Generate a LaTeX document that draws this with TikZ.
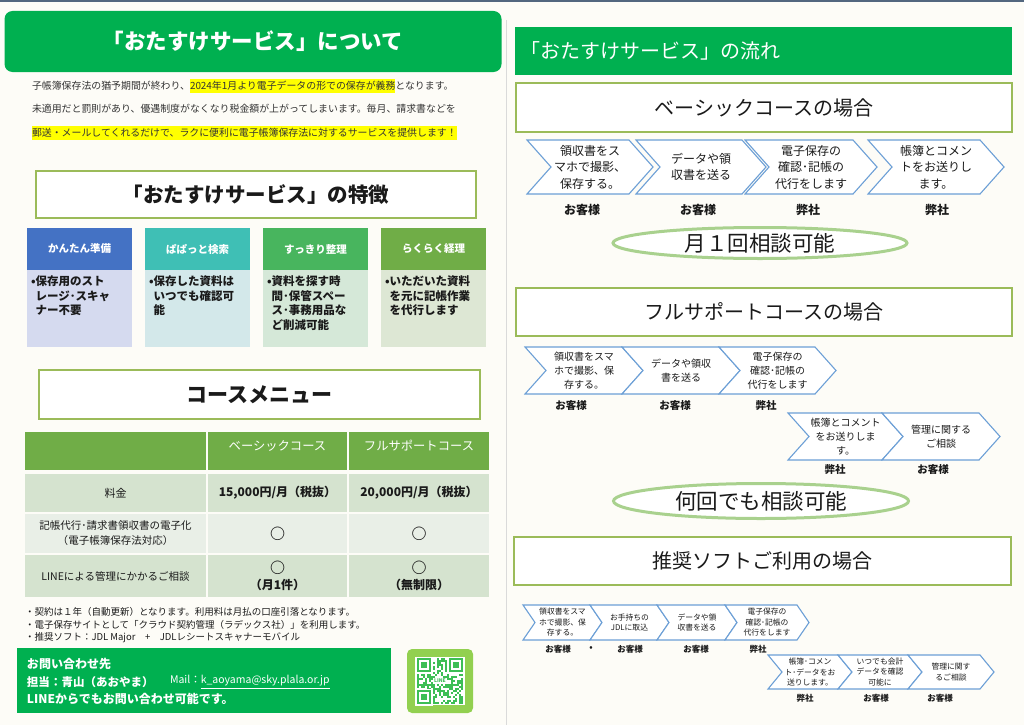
\documentclass[tikz,border=0pt]{standalone}
\usepackage{fontspec}
\setmainfont{Noto Sans CJK JP}
\usetikzlibrary{shapes.geometric}
\definecolor{bg}{HTML}{FDFCF7}
\definecolor{hgreen}{HTML}{00B050}
\definecolor{lgreen}{HTML}{9BBB59}
\definecolor{egreen}{HTML}{A9D18E}
\definecolor{tgreen}{HTML}{70AD47}
\definecolor{rowa}{HTML}{D5E3CF}
\definecolor{rowb}{HTML}{E9EFE7}
\definecolor{chev}{HTML}{6C9FD6}
\definecolor{topline}{HTML}{53677F}
\definecolor{divider}{HTML}{DADADA}
\definecolor{fhA}{HTML}{4472C4}
\definecolor{fbA}{HTML}{D5DAEF}
\definecolor{fhB}{HTML}{3FBFB5}
\definecolor{fbB}{HTML}{D3E8EA}
\definecolor{fhC}{HTML}{48B55E}
\definecolor{fbC}{HTML}{D5E8D8}
\definecolor{fhD}{HTML}{70AD47}
\definecolor{fbD}{HTML}{DDE7D4}
\definecolor{qrout}{HTML}{92D050}
\definecolor{qrmod}{HTML}{3DBE55}
\definecolor{hlyellow}{HTML}{FFFF00}
\definecolor{introtext}{HTML}{333333}
\definecolor{ink}{HTML}{1A1A1A}
\newcommand{\fsz}[2]{\fontsize{#1}{#2}\selectfont}
\newcommand{\chevbox}[8]{%
  \draw[chevline] (#2,#3) -- ({#2+#4},#3) -- ({#2+#4+#6},{#3+#5/2}) -- ({#2+#4},{#3+#5}) -- (#2,{#3+#5}) -- ({#2+#6},{#3+#5/2}) -- cycle;
  \node[#7] (#1) at ({#2+(#4+#6)/2},{#3+#5/2}) {#8};
}
\newcommand{\featcol}[6]{%
  \node[fhead, fill=#3] (#1h) at ({#2+52.5},249) {#5};
  \node[fbody, fill=#4] (#1b) at ({#2+52.5},308.5) {};
  \node[ftext] (#1t) at ({#2+4},276) {#6};
}
\begin{document}
\begin{tikzpicture}[x=1pt,y=-1pt,
  every node/.style={inner sep=0pt,outer sep=0pt,text=ink},
  tbox/.style={draw=lgreen, line width=1.7pt, fill=white},
  rtbox/.style={draw=lgreen, line width=1.2pt, fill=white, font=\fsz{20}{24}},
  intro/.style={anchor=west, inner xsep=0pt, inner ysep=1.5pt, text height=8.8pt, text depth=2pt, font=\fsz{9.9}{12}, text=introtext},
  hl/.style={fill=hlyellow},
  fhead/.style={minimum width=105, minimum height=42, text=white, font=\bfseries\fsz{10.5}{12}},
  fbody/.style={minimum width=105, minimum height=77},
  ftext/.style={anchor=north west, align=left, font=\bfseries\fsz{11.5}{14.5}},
  cell/.style={rectangle, inner sep=0pt, align=center},
  cellA/.style={cell, minimum width=181},
  cellB/.style={cell, minimum width=139},
  cellC/.style={cell, minimum width=140},
  thtext/.style={text=white, font=\fsz{12.3}{14}},
  circ/.style={font=\bfseries\fsz{15}{16}},
  note/.style={anchor=west, font=\fsz{9.5}{11}},
  ctext/.style={anchor=west, text=white, font=\bfseries\fsz{12}{14}},
  chevline/.style={draw=chev, line width=1.1pt, fill=white, line join=miter},
  cvA/.style={align=center, font=\fsz{12}{16.5}},
  cvB/.style={align=center, font=\fsz{10}{14}},
  cvC/.style={align=center, font=\fsz{7.8}{10.5}},
  lbA/.style={font=\bfseries\fsz{12}{14}},
  lbB/.style={font=\bfseries\fsz{10.5}{12}},
  lbC/.style={font=\bfseries\fsz{8.5}{10}},
  oval/.style={ellipse, draw=egreen, line width=3pt, fill=white, font=\fsz{21.5}{24}}
]
\useasboundingbox (0,0) rectangle (1024,725);
\fill[bg] (0,0) rectangle (1024,725);
\fill[topline] (0,0) rectangle (1024,2);
\draw[divider, line width=1pt] (506,20) -- (506,725);

% ---------- left header ----------
\node[fill=hgreen, rounded corners=8pt, minimum width=497, minimum height=61, text=white, font=\bfseries\fsz{21.5}{25}] (mainhead) at (253,41.5) {「おたすけサービス」について};

\node[intro] (i1a) at (32,86) {子帳簿保存法の猶予期間が終わり、};
\node[intro,hl] (i1b) at (i1a.east) {2024年1月より電子データの形での保存が義務};
\node[intro] (i1c) at (i1b.east) {となります。};
\node[intro] (i2) at (32,109) {未適用だと罰則があり、優遇制度がなくなり税金額が上がってしまいます。毎月、請求書などを};
\node[intro,hl] (i3) at (32,133) {郵送・メールしてくれるだけで、ラクに便利に電子帳簿保存法に対するサービスを提供します！};

% ---------- features ----------
\node[tbox, minimum width=440, minimum height=47, font=\bfseries\fsz{20.5}{24}] (feattitle) at (256,194.5) {「おたすけサービス」の特徴};
\featcol{fa}{27}{fhA}{fbA}{かんたん準備}{•保存用のスト\\\hphantom{•}レージ･スキャ\\\hphantom{•}ナー不要}
\featcol{fb}{145}{fhB}{fbB}{ぱぱっと検索}{•保存した資料は\\\hphantom{•}いつでも確認可\\\hphantom{•}能}
\featcol{fc}{263}{fhC}{fbC}{すっきり整理}{•資料を探す時\\\hphantom{•}間･保管スペー\\\hphantom{•}ス･事務用品な\\\hphantom{•}ど削減可能}
\featcol{fd}{381}{fhD}{fbD}{らくらく経理}{•いただいた資料\\\hphantom{•}を元に記帳作業\\\hphantom{•}を代行します}

% ---------- course menu ----------
\node[tbox, minimum width=441, minimum height=49, font=\bfseries\fsz{21}{24}] (coursetitle) at (259.5,394.5) {コースメニュー};

\node[cellA, fill=tgreen, minimum height=38] (th0) at (115.5,451) {};
\node[cellB, fill=tgreen, minimum height=38] (th1) at (277.5,451) {};
\node[cellC, fill=tgreen, minimum height=38] (th2) at (419,451) {};
\node[thtext] (th1t) at (277.5,446) {ベーシックコース};
\node[thtext] (th2t) at (419,446) {フルサポートコース};

\node[cellA, fill=rowa, minimum height=38, font=\fsz{11}{13}] (r1a) at (115.5,493) {料金};
\node[cellB, fill=rowa, minimum height=38, font=\bfseries\fsz{12}{14}] (r1b) at (277.5,493) {15,000円/月（税抜）};
\node[cellC, fill=rowa, minimum height=38, font=\bfseries\fsz{12}{14}] (r1c) at (419,493) {20,000円/月（税抜）};

\node[cellA, fill=rowb, minimum height=39, font=\fsz{10.5}{15}] (r2a) at (115.5,533.5) {記帳代行･請求書領収書の電子化\\（電子帳簿保存法対応）};
\node[cellB, fill=rowb, minimum height=39, circ] (r2b) at (277.5,533.5) {○};
\node[cellC, fill=rowb, minimum height=39, circ] (r2c) at (419,533.5) {○};

\node[cellA, fill=rowa, minimum height=42, font=\fsz{10.5}{13}] (r3a) at (115.5,576) {LINEによる管理にかかるご相談};
\node[cellB, fill=rowa, minimum height=42] (r3b) at (277.5,576) {};
\node[cellC, fill=rowa, minimum height=42] (r3c) at (419,576) {};
\node[circ] (r3bo) at (277.5,568) {○};
\node[font=\bfseries\fsz{12}{14}] (r3bt) at (277.5,585) {（月1件）};
\node[circ] (r3co) at (419,568) {○};
\node[font=\bfseries\fsz{12}{14}] (r3ct) at (419,585) {（無制限）};

\node[note] (n1) at (25,612) {・契約は１年（自動更新）となります。利用料は月払の口座引落となります。};
\node[note] (n2) at (25,625) {・電子保存サイトとして「クラウド契約管理（ラデックス社）」を利用します。};
\node[note] (n3) at (25,638) {・推奨ソフト：JDL Major　+　JDLレシートスキャナーモバイル};

% ---------- contact ----------
\node[fill=hgreen, minimum width=374, minimum height=65] (contact) at (204,680.5) {};
\node[ctext] (ct1) at (27,664) {お問い合わせ先};
\node[ctext, font=\bfseries\fsz{11.5}{14}] (ct2) at (27,682) {担当：青山（あおやま）};
\node[anchor=west, text=white, font=\fsz{10.5}{13}] (ct3) at (170,682) {Mail：\underline{k\_aoyama@sky.plala.or.jp}};
\node[ctext] (ct4) at (27,699) {LINEからでもお問い合わせ可能です。};

% ---------- QR ----------
\fill[qrout, rounded corners=5pt] (407,649) rectangle (473,713);
\fill[white] (415,657) rectangle (465,705);
\pgfmathsetseed{4242}
\foreach \i in {0,...,22}{\foreach \j in {0,...,22}{%
  \pgfmathsetmacro\qrv{rnd}%
  \ifdim\qrv pt<0.5pt \fill[qrmod] ({417+2*\i},{658+2*\j}) rectangle ++(2,2); \fi
}}
\foreach \fx/\fy in {417/658, 449/658, 417/690}{
  \fill[white] ({\fx-2},{\fy-1}) rectangle ({\fx+16},{\fy+16});
  \fill[qrmod] (\fx,\fy) rectangle ++(14,14);
  \fill[white] ({\fx+2},{\fy+2}) rectangle ++(10,10);
  \fill[qrmod] ({\fx+4},{\fy+4}) rectangle ++(6,6);
}
\node[fill=white, text=qrmod, font=\bfseries\fsz{5}{6}, inner sep=0.7pt] (qrline) at (440,681) {LINE};

% ---------- right header ----------
\node[fill=hgreen, minimum height=48, anchor=west, text width=487, inner xsep=5pt, align=left, text=white, font=\fsz{20}{24}] (flowhead) at (515,51) {「おたすけサービス」の流れ};

% ---------- basic course ----------
\node[rtbox, minimum width=496, minimum height=49] (basictitle) at (764,107.5) {ベーシックコースの場合};
\chevbox{b1}{527}{140}{102}{54}{24}{cvA}{領収書をス\\マホで撮影、\\保存する。}
\chevbox{b2}{636}{140}{106}{54}{24}{cvA}{データや領\\収書を送る}
\chevbox{b3}{745}{140}{108}{54}{24}{cvA}{電子保存の\\確認･記帳の\\代行をします}
\chevbox{b4}{868}{140}{112}{54}{24}{cvA}{帳簿とコメン\\トをお送りし\\ます。}
\node[lbA] (bl1) at (582,210) {お客様};
\node[lbA] (bl2) at (698,210) {お客様};
\node[lbA] (bl3) at (808,210) {弊社};
\node[lbA] (bl4) at (937,210) {弊社};
\node[oval, minimum width=294, minimum height=31] (once) at (760,243) {月１回相談可能};

% ---------- full support ----------
\node[rtbox, minimum width=496, minimum height=48] (fulltitle) at (764,312) {フルサポートコースの場合};
\chevbox{f1}{525}{347}{97}{47}{21}{cvB}{領収書をスマ\\ホで撮影、保\\存する。}
\chevbox{f2}{622}{347}{97}{47}{21}{cvB}{データや領収\\書を送る}
\chevbox{f3}{719}{347}{96}{47}{21}{cvB}{電子保存の\\確認･記帳の\\代行をします}
\chevbox{f4}{788}{413}{94}{47}{21}{cvB}{帳簿とコメント\\をお送りしま\\す。}
\chevbox{f5}{882}{413}{97}{47}{21}{cvB}{管理に関する\\ご相談}
\node[lbB] (fl1) at (571,406) {お客様};
\node[lbB] (fl2) at (675,406) {お客様};
\node[lbB] (fl3) at (766,406) {弊社};
\node[lbB] (fl4) at (835,470) {弊社};
\node[lbB] (fl5) at (933,470) {お客様};
\node[oval, minimum width=295, minimum height=35] (anytime) at (761,501) {何回でも相談可能};

% ---------- recommended software ----------
\node[rtbox, minimum width=497, minimum height=48] (softtitle) at (762.5,561) {推奨ソフトご利用の場合};
\chevbox{s1}{523}{605}{67}{35}{12}{cvC}{領収書をスマ\\ホで撮影、保\\存する。}
\chevbox{s2}{590}{605}{67}{35}{12}{cvC}{お手持ちの\\JDLに取込}
\chevbox{s3}{657}{605}{68}{35}{12}{cvC}{データや領\\収書を送る}
\chevbox{s4}{725}{605}{72}{35}{12}{cvC}{電子保存の\\確認･記帳の\\代行をします}
\chevbox{s5}{768}{655}{70}{34}{14}{cvC}{帳簿･コメン\\ト･データをお\\送りします。}
\chevbox{s6}{838}{655}{70}{34}{14}{cvC}{いつでも会計\\データを確認\\可能に}
\chevbox{s7}{908}{655}{72}{34}{14}{cvC}{管理に関す\\るご相談}
\node[lbC] (sl1) at (558,649) {お客様};
\node[lbC] (sldot) at (591,649) {•};
\node[lbC] (sl2) at (630,649) {お客様};
\node[lbC] (sl3) at (696,649) {お客様};
\node[lbC] (sl4) at (758,649) {弊社};
\node[lbC] (sl5) at (805,698) {弊社};
\node[lbC] (sl6) at (876,698) {お客様};
\node[lbC] (sl7) at (940,698) {お客様};
\end{tikzpicture}
\end{document}
